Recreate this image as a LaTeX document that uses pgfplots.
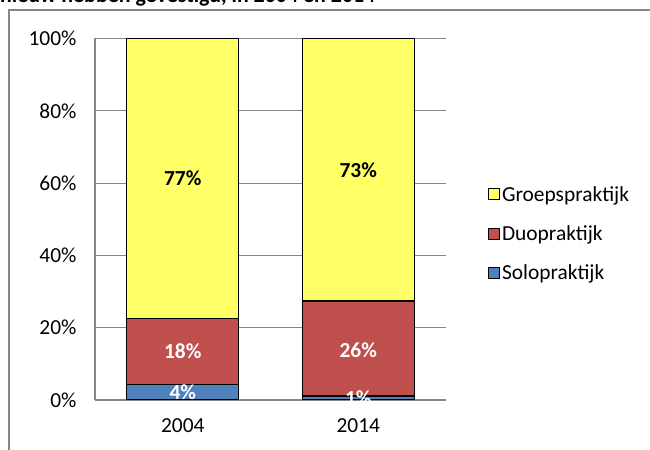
\documentclass[border=0pt]{standalone}
\usepackage{pgfplots}
\pgfplotsset{compat=1.18}
\usepackage{fontspec}
\setmainfont{Carlito}
\definecolor{grp}{HTML}{FFFF66}
\definecolor{duo}{HTML}{C0504D}
\definecolor{solo}{HTML}{4F81BD}
\definecolor{gridg}{HTML}{868686}
\begin{document}
\begin{tikzpicture}[x=1bp,y=1bp]
\useasboundingbox (0,0) rectangle (650,450);
\clip (0,0) rectangle (650,450);
\node[anchor=base west, inner sep=0, font=\bfseries\fontsize{22}{26}\selectfont] at (0,447.5) {nieuw hebben gevestigd, in 2004 en 2014};
\draw[gridg, line width=1.5bp] (9,0) -- (9,440) -- (650,440);
\begin{axis}[
  at={(95bp,50bp)}, anchor=south west, scale only axis,
  width=351bp, height=361.5bp,
  ybar stacked, bar width=112bp,
  xmin=-0.5, xmax=1.5, ymin=0, ymax=100,
  xtick={0,1}, xticklabels={2004,2014},
  ytick={0,20,...,100}, yticklabel={\pgfmathprintnumber{\tick}\%},
  ymajorgrids, major grid style={gridg, line width=1bp},
  axis lines*=left, axis line style={gridg, line width=1.2bp},
  major tick length=0pt,
  tick label style={font=\fontsize{21.5}{25}\selectfont},
  yticklabel style={xshift=-15bp},
  xticklabel style={yshift=-15bp},
  /pgf/number format/assume math mode=true,
  legend image code/.code={\draw[#1,draw=black,line width=0.8bp] (0bp,-5.5bp) rectangle (11bp,5.5bp);},
  legend style={draw=none, fill=none, at={(1,0.46)}, anchor=west, xshift=42bp, inner sep=0pt, row sep=19bp, font=\fontsize{21.5}{25}\selectfont, cells={anchor=west}},
  reverse legend,
]
\addplot[fill=solo, draw=black, line width=1.3bp] coordinates {(0,4.2) (1,1.1)};
\addplot[fill=duo, draw=black, line width=1.3bp] coordinates {(0,18.4) (1,26.3)};
\addplot[fill=grp, draw=black, line width=1.3bp] coordinates {(0,77.4) (1,72.6)};
\legend{Solopraktijk, Duopraktijk, Groepspraktijk}
\end{axis}
\begin{axis}[
  at={(95bp,50bp)}, anchor=south west, scale only axis,
  width=351bp, height=361.5bp,
  xmin=-0.5, xmax=1.5, ymin=0, ymax=100,
  hide axis, clip=false,
]
\addplot[draw=none, mark=none, nodes near coords, point meta=explicit symbolic,
  nodes near coords style={anchor=center, inner sep=0pt, font=\bfseries\fontsize{21.5}{25}\selectfont, text=white}]
  coordinates {(0,13.4)[18\%] (1,13.85)[26\%] (0,2.1)[4\%] (1,0.55)[1\%]};
\addplot[draw=none, mark=none, nodes near coords, point meta=explicit symbolic,
  nodes near coords style={anchor=center, inner sep=0pt, font=\bfseries\fontsize{21.5}{25}\selectfont, text=black}]
  coordinates {(0,61.3)[77\%] (1,63.7)[73\%]};
\end{axis}
\end{tikzpicture}
\end{document}
